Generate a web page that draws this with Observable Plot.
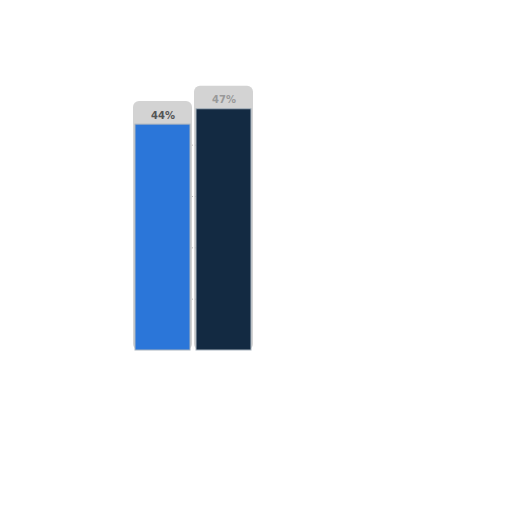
<!DOCTYPE html>
<html><head><meta charset="utf-8">
<script src="https://cdn.jsdelivr.net/npm/d3@7"></script>
<script src="https://cdn.jsdelivr.net/npm/@observablehq/plot@0.6"></script>
<style>body{margin:0;background:#fff}</style>
</head><body><div id="chart"></div>
<script>
const categories = ["A", "B"];
const values = [44, 47];
const labels = ["44%", "47%"];
const colors = ["#2b76d9", "#132a42"];
const gridTicks = [10, 20, 30, 40];

const data = categories.map((c, i) => ({cat: c, value: values[i], label: labels[i], color: colors[i]}));

const chart = Plot.plot({
  width: 512, height: 512,
  marginLeft: 135, marginRight: 261, marginTop: 42, marginBottom: 162,
  x: {domain: categories, paddingInner: 0.1, paddingOuter: 0, axis: null},
  y: {domain: [0, 60], axis: null},
  marks: [
    Plot.rectY(data, {x: "cat", y1: 0, y2: d => d.value + 4.5, fill: "#c8c8c8", insetLeft: -2, insetRight: -2, rx: 6, fillOpacity: 0.8}),
    Plot.ruleY(gridTicks, {stroke: "#bbb", strokeDasharray: "1,2", strokeWidth: 1}),
    Plot.rectY(data, {x: "cat", y: "value", fill: "color", stroke: "#a9b3bd", strokeWidth: 1}),
    Plot.text(data, {x: "cat", y: "value", text: "label", dy: -9, fill: d => d.cat === "A" ? "#555" : "#999", fontSize: 10, fontWeight: "bold", fontFamily: "DejaVu Sans"})
  ]
});
document.getElementById("chart").appendChild(chart);
</script>
</body></html>
